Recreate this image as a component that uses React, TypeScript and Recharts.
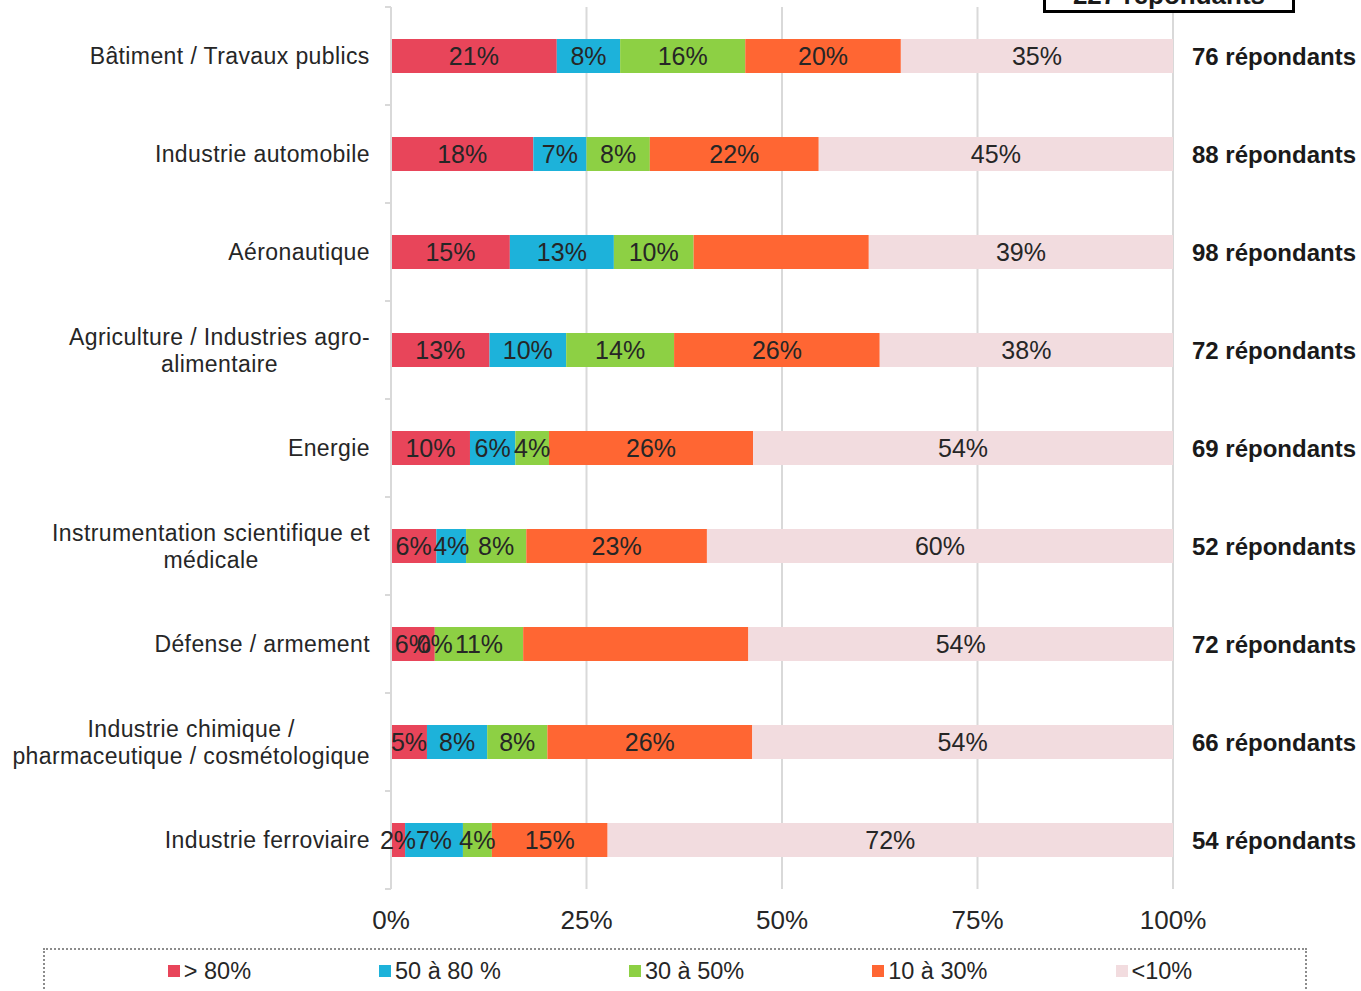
import React from 'react';
import { BarChart, Bar, XAxis, YAxis, CartesianGrid, LabelList } from 'recharts';

// ── data ────────────────────────────────────────────────
const categories = [
  'Bâtiment / Travaux publics',
  'Industrie automobile',
  'Aéronautique',
  'Agriculture / Industries agro-\nalimentaire',
  'Energie',
  'Instrumentation scientifique et\nmédicale',
  'Défense / armement',
  'Industrie chimique /\npharmaceutique / cosmétologique',
  'Industrie ferroviaire',
];

const over80 = [21.2, 18.2, 15.2, 12.6, 10.1, 5.8, 5.6, 4.6, 1.8];
const from50to80 = [8.1, 6.8, 13.3, 9.8, 5.8, 3.8, 0, 7.7, 7.4];
const from30to50 = [16.0, 8.1, 10.2, 13.8, 4.3, 7.7, 11.3, 7.7, 3.7];
const from10to30 = [19.9, 21.6, 22.4, 26.3, 26.1, 23.1, 28.8, 26.2, 14.8];
const under10 = [34.8, 45.3, 38.9, 37.5, 53.7, 59.6, 54.3, 53.8, 72.3];

const respondents = [76, 88, 98, 72, 69, 52, 72, 66, 54];
const totalRespondents = 227;

const xTicks = [0, 25, 50, 75, 100];

// segments whose value label is not printed in the source
const hiddenLabels: Record<string, string[]> = {
  from10to30: ['Aéronautique', 'Défense / armement'],
};

const series = [
  { key: 'over80', name: '> 80%', color: '#E8455A' },
  { key: 'from50to80', name: '50 à 80 %', color: '#1DB2DA' },
  { key: 'from30to50', name: '30 à 50%', color: '#8DD044' },
  { key: 'from10to30', name: '10 à 30%', color: '#FF6633' },
  { key: 'under10', name: '<10%', color: '#F2DCDF' },
];

const data = categories.map((name, i) => ({
  name,
  over80: over80[i],
  from50to80: from50to80[i],
  from30to50: from30to50[i],
  from10to30: from10to30[i],
  under10: under10[i],
  respondents: respondents[i],
}));

// ── layout ──────────────────────────────────────────────
const FONT = '"Liberation Sans", Arial, sans-serif';
const TEXT = '#262626';
const GRID = '#d9d9d9';
const CHART_W = 1361;
const CHART_H = 945;
const MARGIN = { top: 7, right: 188, bottom: 6, left: 0 };
const X_AXIS_H = 50;
const PLOT_H = CHART_H - MARGIN.top - MARGIN.bottom - X_AXIS_H;
const BAND = PLOT_H / categories.length;
const CAT_FONT = 23;
const CAT_SPACING = 0.4;

let measureCtx: CanvasRenderingContext2D | null = null;
function textWidth(text: string): number {
  if (!measureCtx) measureCtx = document.createElement('canvas').getContext('2d');
  if (!measureCtx) return text.length * 11;
  measureCtx.font = `${CAT_FONT}px ${FONT}`;
  return measureCtx.measureText(text).width + text.length * CAT_SPACING;
}

function CategoryTick(props: any) {
  const { x, y, payload, index } = props;
  const lines = String(payload.value).split('\n');
  const right = x - 21;
  const maxW = Math.max(...lines.map((l) => textWidth(l)));
  const cx = right - maxW / 2;
  const lh = 27;
  const y0 = y - ((lines.length - 1) * lh) / 2;
  return (
    <g>
      {index === 0 && (
        <line x1={x - 6} x2={x} y1={y - BAND / 2} y2={y - BAND / 2} stroke={GRID} strokeWidth={2} />
      )}
      <line x1={x - 6} x2={x} y1={y + BAND / 2} y2={y + BAND / 2} stroke={GRID} strokeWidth={2} />
      <text
        textAnchor="middle"
        fontFamily={FONT}
        fontSize={CAT_FONT}
        letterSpacing={CAT_SPACING}
        fill={TEXT}
      >
        {lines.map((l, i) => (
          <tspan key={i} x={cx} y={y0 + i * lh} dominantBaseline="central">
            {l}
          </tspan>
        ))}
      </text>
    </g>
  );
}

function segmentLabel(key: string) {
  return (props: any) => {
    const { x, y, width, height, value, index } = props;
    const hidden = hiddenLabels[key] || [];
    if (hidden.includes(categories[index])) return null;
    return (
      <text
        x={x + width / 2}
        y={y + height / 2}
        textAnchor="middle"
        dominantBaseline="central"
        fontFamily={FONT}
        fontSize={25}
        fill={TEXT}
      >
        {`${Math.round(value)}%`}
      </text>
    );
  };
}

function RespondentLabel(props: any) {
  const { x, y, width, height, index } = props;
  return (
    <text
      x={x + width + 19}
      y={y + height / 2}
      dominantBaseline="central"
      fontFamily={FONT}
      fontWeight="bold"
      fontSize={24}
      fill="#1a1a1a"
    >
      {`${respondents[index]} répondants`}
    </text>
  );
}

export default function App() {
  return (
    <div
      style={{
        position: 'absolute',
        left: 0,
        top: 0,
        width: CHART_W,
        height: 991,
        overflow: 'hidden',
        background: '#fff',
        fontFamily: FONT,
      }}
    >
      <div
        style={{
          position: 'absolute',
          left: 1043,
          top: -30,
          width: 246,
          height: 37,
          border: '3px solid #000',
          background: '#fff',
          zIndex: 2,
        }}
      >
        <span
          style={{
            position: 'absolute',
            left: 0,
            right: 0,
            top: 9,
            textAlign: 'center',
            fontWeight: 'bold',
            fontSize: 26,
            lineHeight: '26px',
            color: '#1a1a1a',
          }}
        >
          {`${totalRespondents} répondants`}
        </span>
      </div>

      <BarChart
        width={CHART_W}
        height={CHART_H}
        data={data}
        layout="vertical"
        margin={MARGIN}
        barSize={34}
        barGap={0}
      >
        <CartesianGrid horizontal={false} vertical stroke={GRID} strokeWidth={2} />
        <XAxis
          type="number"
          domain={[0, 100]}
          ticks={xTicks}
          tickFormatter={(v) => `${v}%`}
          height={X_AXIS_H}
          axisLine={false}
          tickLine={false}
          tickSize={0}
          tickMargin={22}
          tick={{ fontSize: 26, fill: TEXT, fontFamily: FONT }}
          interval={0}
        />
        <YAxis
          type="category"
          dataKey="name"
          width={391}
          axisLine={{ stroke: GRID, strokeWidth: 2 }}
          tickLine={false}
          tickSize={0}
          tickMargin={0}
          tick={<CategoryTick />}
          interval={0}
        />
        {series.map((s) => (
          <Bar
            key={s.key}
            dataKey={s.key}
            name={s.name}
            stackId="a"
            fill={s.color}
            minPointSize={0.01}
            isAnimationActive={false}
          >
            <LabelList dataKey={s.key} content={segmentLabel(s.key)} />
            {s.key === 'under10' && <LabelList dataKey="respondents" content={RespondentLabel} />}
          </Bar>
        ))}
      </BarChart>

      <div
        style={{
          position: 'absolute',
          left: 43,
          top: 948,
          width: 1264,
          height: 80,
          border: '2px dotted #8c8c8c',
          display: 'flex',
          justifyContent: 'center',
          gap: 128,
          paddingTop: 8,
          paddingLeft: 10,
          boxSizing: 'border-box',
        }}
      >
        {series.map((s) => (
          <div
            key={s.key}
            style={{ display: 'flex', alignItems: 'center', height: 26, fontSize: 23.5, color: TEXT }}
          >
            <span style={{ width: 12, height: 12, background: s.color, marginRight: 4, display: 'inline-block' }} />
            <span>{s.name}</span>
          </div>
        ))}
      </div>
    </div>
  );
}
